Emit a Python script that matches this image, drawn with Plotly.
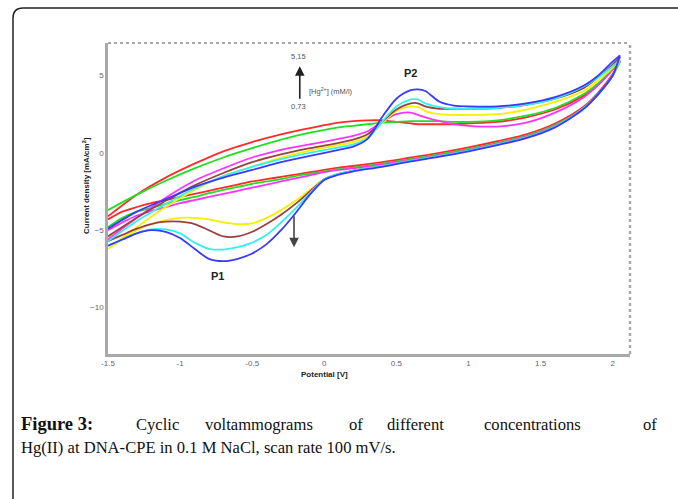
import plotly.graph_objects as go

# potential grids (V) for the forward (anodic) and reverse (cathodic) scans
fwd_v = [-1.5, -1.3, -1.1, -0.9, -0.7, -0.5, -0.3, -0.1, 0.1, 0.2, 0.3, 0.4, 0.5,
         0.6, 0.65, 0.7, 0.8, 0.9, 1.0, 1.2, 1.4, 1.6, 1.8, 1.9, 2.0, 2.05]
rev_v = [2.05, 2.0, 1.9, 1.8, 1.6, 1.4, 1.2, 1.0, 0.8, 0.6, 0.4, 0.2, 0.1, 0.0,
         -0.1, -0.2, -0.3, -0.4, -0.5, -0.6, -0.7, -0.8, -0.9, -1.0, -1.1, -1.2,
         -1.3, -1.4, -1.5]

# current density (mA/cm2), forward scan
red_fwd = [-4.1, -2.7, -1.6, -0.7, 0.1, 0.7, 1.2, 1.6, 1.95, 2.05, 2.1, 2.1, 2.0,
           1.9, 1.85, 1.85, 1.85, 1.85, 1.9, 2.0, 2.3, 2.8, 3.7, 4.4, 5.4, 5.9]
green_fwd = [-3.7, -2.7, -1.8, -1.0, -0.3, 0.3, 0.85, 1.3, 1.65, 1.75, 1.85, 1.95, 2.0,
             2.05, 2.05, 2.05, 2.05, 2.0, 2.0, 2.1, 2.4, 2.9, 3.8, 4.5, 5.4, 5.9]
magenta_fwd = [-5.6, -4.2, -2.9, -1.8, -1.0, -0.3, 0.2, 0.55, 0.9, 1.1, 1.4, 2.0, 2.5,
               2.6, 2.45, 2.3, 2.05, 1.85, 1.75, 1.7, 1.95, 2.6, 3.6, 4.4, 5.4, 6.0]
yellow_fwd = [-6.2, -4.8, -3.5, -2.4, -1.5, -0.9, -0.3, 0.15, 0.5, 0.7, 1.05, 1.9, 2.7,
              3.0, 2.95, 2.7, 2.5, 2.45, 2.45, 2.5, 2.8, 3.3, 4.0, 4.7, 5.5, 6.0]
brown_fwd = [-5.4, -4.2, -3.1, -2.1, -1.3, -0.6, -0.1, 0.3, 0.65, 0.85, 1.2, 2.0, 2.8,
             3.2, 3.2, 3.0, 2.85, 2.85, 2.85, 2.9, 3.1, 3.5, 4.2, 4.9, 5.7, 6.2]
cyan_fwd = [-5.7, -4.4, -3.3, -2.3, -1.5, -0.9, -0.4, 0.0, 0.35, 0.55, 0.95, 2.0, 3.0,
            3.45, 3.45, 3.2, 2.95, 2.85, 2.85, 2.9, 3.1, 3.5, 4.3, 4.9, 5.6, 6.0]
blue_fwd = [-4.9, -3.8, -3.0, -2.2, -1.6, -1.1, -0.6, -0.2, 0.2, 0.4, 0.9, 2.3, 3.5,
            4.05, 4.1, 4.0, 3.3, 3.05, 3.0, 3.0, 3.2, 3.6, 4.35, 5.0, 5.9, 6.3]

# current density (mA/cm2), reverse scan
red_rev = [5.9, 5.1, 3.9, 3.0, 1.9, 1.2, 0.75, 0.35, 0.0, -0.3, -0.6, -0.85, -0.95,
           -1.1, -1.25, -1.4, -1.55, -1.7, -1.85, -2.05, -2.25, -2.45, -2.65, -2.85,
           -3.05, -3.25, -3.5, -3.8, -4.3]
green_rev = [5.9, 5.0, 3.8, 2.9, 1.8, 1.1, 0.65, 0.25, -0.1, -0.4, -0.7, -0.95, -1.05,
             -1.2, -1.35, -1.5, -1.7, -1.85, -2.0, -2.2, -2.4, -2.6, -2.85, -3.05,
             -3.3, -3.55, -3.8, -4.2, -4.8]
magenta_rev = [6.0, 5.0, 3.8, 2.9, 1.75, 1.05, 0.6, 0.2, -0.15, -0.45, -0.75, -1.0,
               -1.1, -1.25, -1.45, -1.65, -1.85, -2.05, -2.25, -2.45, -2.65, -2.85,
               -3.05, -3.25, -3.5, -3.75, -4.05, -4.5, -5.0]
yellow_rev = [6.0, 5.0, 3.8, 2.9, 1.7, 1.0, 0.55, 0.15, -0.2, -0.5, -0.85, -1.15, -1.35,
              -1.7, -2.4, -3.1, -3.7, -4.2, -4.55, -4.6, -4.5, -4.3, -4.2, -4.2,
              -4.35, -4.6, -5.0, -5.6, -6.2]
brown_rev = [6.2, 5.0, 3.8, 2.9, 1.7, 1.0, 0.55, 0.15, -0.2, -0.5, -0.85, -1.15, -1.35,
             -1.7, -2.5, -3.3, -4.0, -4.6, -5.1, -5.4, -5.4, -5.0, -4.6, -4.45,
             -4.45, -4.6, -4.9, -5.3, -5.7]
cyan_rev = [6.0, 5.0, 3.8, 2.9, 1.7, 1.0, 0.55, 0.15, -0.2, -0.5, -0.85, -1.15, -1.35,
            -1.7, -2.6, -3.6, -4.5, -5.3, -5.8, -6.1, -6.25, -6.2, -5.8, -5.2,
            -4.95, -4.95, -5.2, -5.6, -6.0]
blue_rev = [6.3, 5.0, 3.8, 2.85, 1.65, 0.95, 0.5, 0.1, -0.25, -0.55, -0.9, -1.2, -1.4,
            -1.75, -2.7, -3.9, -5.0, -5.9, -6.5, -6.85, -7.0, -6.85, -6.2, -5.5,
            -5.1, -5.0, -5.2, -5.6, -6.0]

curves = [
    ("red", "#ff2a2a", red_fwd, red_rev),
    ("green", "#1fe01f", green_fwd, green_rev),
    ("magenta", "#ff33ff", magenta_fwd, magenta_rev),
    ("yellow", "#f5f000", yellow_fwd, yellow_rev),
    ("brown", "#9a4040", brown_fwd, brown_rev),
    ("cyan", "#33f0f0", cyan_fwd, cyan_rev),
    ("blue", "#3a3aff", blue_fwd, blue_rev),
]

x_ticks = [-1.5, -1, -0.5, 0, 0.5, 1, 1.5, 2]
y_ticks = [-10, -5, 0, 5]

W, H = 678, 499
L, R, T, B = 108, 48, 43, 145


def px(x):
    return (x - L) / (W - L - R)


def py(y):
    return (H - B - y) / (H - T - B)


fig = go.Figure()
for name, col, f, r in curves:
    fig.add_trace(go.Scatter(x=fwd_v + rev_v, y=f + r, mode="lines", name=name,
                             line=dict(color=col, width=1.8, shape="spline", smoothing=0.8),
                             showlegend=False))

tick_font = dict(family="Arial, Liberation Sans", size=8, color="#666")
fig.update_xaxes(range=[-1.5, 2.12], tickvals=x_ticks, ticktext=[f"{t:g}" for t in x_ticks],
                 showgrid=False, zeroline=False, showline=True, linecolor="#a8a8a8",
                 linewidth=2.5, tickfont=tick_font, ticks="")
fig.update_yaxes(range=[-13, 7.1], tickvals=y_ticks, showgrid=False, zeroline=False,
                 showline=True, linecolor="#a8a8a8", linewidth=2.5, tickfont=tick_font, ticks="")

# dotted top and right border of the plot
fig.add_shape(type="line", xref="x domain", yref="y domain", x0=0, x1=1, y0=1, y1=1,
              line=dict(color="#a8a8a8", width=2, dash="dot"))
fig.add_shape(type="line", xref="x domain", yref="y domain", x0=1, x1=1, y0=0, y1=1,
              line=dict(color="#a8a8a8", width=2.5, dash="dot"))

# outer frame (top and left edge with rounded corner)
fig.add_shape(type="path", xref="paper", yref="paper",
              path=f"M {px(13)} {py(510)} L {px(13)} {py(18)} Q {px(13)} {py(8)} {px(23)} {py(8)} L {px(700)} {py(8)}",
              line=dict(color="#222", width=1.5))

ann = []
ann.append(dict(x=-0.21, y=-6.1, ax=-0.21, ay=-4.0, xref="x", yref="y", axref="x", ayref="y",
                showarrow=True, arrowhead=2, arrowsize=1.2, arrowwidth=1.6, arrowcolor="#444", text=""))
ann.append(dict(x=-0.17, y=5.6, ax=-0.17, ay=3.4, xref="x", yref="y", axref="x", ayref="y",
                showarrow=True, arrowhead=2, arrowsize=1.2, arrowwidth=1.6, arrowcolor="#222", text=""))
small = dict(family="Arial, Liberation Sans", size=7.5, color="#555")
ann.append(dict(x=-0.18, y=6.25, xref="x", yref="y", text="5,15", showarrow=False, font=small))
ann.append(dict(x=-0.18, y=3.0, xref="x", yref="y", text="0,73", showarrow=False, font=small))
ann.append(dict(x=-0.12, y=4.0, xref="x", yref="y", text="[Hg<sup>2+</sup>] (mM/l)", showarrow=False,
                xanchor="left", font=small))
lab = dict(family="Arial, Liberation Sans", size=11, color="#222")
ann.append(dict(x=-0.74, y=-7.95, xref="x", yref="y", text="<b>P1</b>", showarrow=False, font=lab))
ann.append(dict(x=0.6, y=5.15, xref="x", yref="y", text="<b>P2</b>", showarrow=False, font=lab))

axis_title = dict(family="Arial, Liberation Sans", size=8, color="#222")
ann.append(dict(x=px(324), y=py(381), xref="paper", yref="paper", text="<b>Potential [V]</b>",
                showarrow=False, font=axis_title))
ann.append(dict(x=px(79), y=py(186), xref="paper", yref="paper", textangle=-90,
                text="<b>Current density [mA/cm<sup>2</sup>]</b>", showarrow=False, font=axis_title))

# caption, first line justified word by word
cap_font = dict(family="Liberation Serif, Times New Roman", size=16.6, color="#111")
bold_font = dict(family="Liberation Serif, Times New Roman", size=18.5, color="#111")
line1 = [("<b>Figure 3:</b>", 19), ("Cyclic", 134), ("voltammograms", 203), ("of", 347),
         ("different", 385), ("concentrations", 482), ("of", 641)]
for word, xp in line1:
    ann.append(dict(x=px(xp), y=py(436), xref="paper", yref="paper", text=word, showarrow=False,
                    xanchor="left", font=bold_font if word.startswith("<b>") else cap_font))
ann.append(dict(x=px(19), y=py(459), xref="paper", yref="paper",
                text="Hg(II) at DNA-CPE in 0.1 M NaCl, scan rate 100 mV/s.", showarrow=False,
                xanchor="left", font=cap_font))

fig.update_layout(width=W, height=H, margin=dict(l=L, r=R, t=T, b=B),
                  plot_bgcolor="white", paper_bgcolor="white", annotations=ann)
fig.write_html("out.html", config={"displayModeBar": False},
               post_script="document.body.style.margin='0px';")
